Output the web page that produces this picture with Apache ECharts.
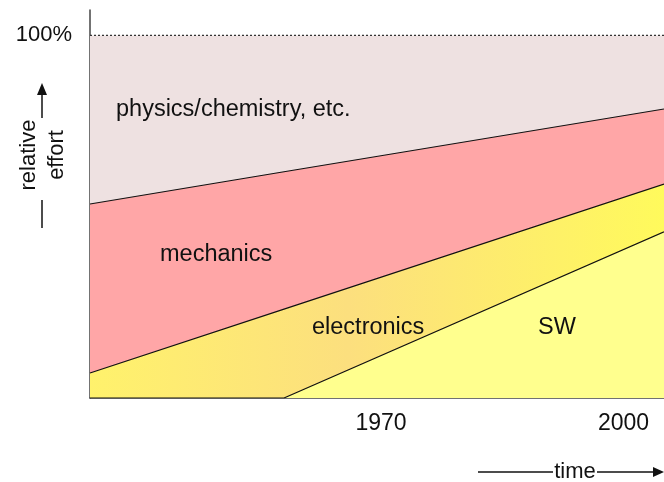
<!DOCTYPE html>
<html>
<head>
<meta charset="utf-8">
<script src="https://cdn.jsdelivr.net/npm/echarts@6/dist/echarts.min.js"></script>
<style>html,body{margin:0;padding:0;background:#fff;}#c{width:664px;height:482px;}</style>
</head>
<body>
<div id="c"></div>
<script>
// Data (relative effort shares, percent) at given years
const years = [1934, 1958, 2005];
const swShare = [0, 0, 45.8];
const electronicsShare = [6.9, 24.5, 13.2];
const mechanicsShare = [46.6, 37.9, 20.7];
const physicsShare = [46.5, 37.6, 20.3];
const xTickLabels = [1970, 2000];
const yTickLabels = [100];

const FONT = '"Liberation Sans", Arial, sans-serif';
// cumulative (stacked) tops built from the shares
const cumSW = swShare.slice();
const cumEl = cumSW.map((v, i) => v + electronicsShare[i]);
const cumMe = cumEl.map((v, i) => v + mechanicsShare[i]);
const cumPh = cumMe.map((v, i) => v + physicsShare[i]);
const pairs = arr => years.map((y, i) => [y, +arr[i].toFixed(2)]);

const chart = echarts.init(document.getElementById('c'), null, {renderer: 'canvas'});
const lineBase = {color: '#111', width: 1.2};

chart.setOption({
  animation: false,
  backgroundColor: '#fff',
  grid: {left: 90, right: 0, top: 10, bottom: 84},
  xAxis: {
    type: 'value', min: 1934, max: 2005,
    splitLine: {show: false},
    axisLine: {show: true, lineStyle: {color: '#444', width: 1.5}},
    axisTick: {show: false},
    axisLabel: {
      customValues: xTickLabels,
      formatter: v => String(v),
      margin: 14, color: '#111', fontSize: 23, fontFamily: FONT
    }
  },
  yAxis: {
    type: 'value', min: 0, max: 107,
    splitLine: {show: false},
    axisLine: {show: true, lineStyle: {color: '#444', width: 1.5}},
    axisTick: {show: false},
    axisLabel: {
      customValues: yTickLabels,
      formatter: v => v + '%',
      margin: 18, color: '#111', fontSize: 22, fontFamily: FONT,
      padding: [4, 0, 0, 0]
    }
  },
  series: [
    {
      name: 'physics/chemistry, etc.', type: 'line', data: pairs(cumPh),
      symbol: 'none', z: 2, lineStyle: {color: '#333', width: 1.2, type: [2, 2]},
      areaStyle: {color: '#EEE1E1', opacity: 1}
    },
    {
      name: 'mechanics', type: 'line', data: pairs(cumMe),
      symbol: 'none', z: 3, lineStyle: lineBase,
      areaStyle: {color: '#FFA6A7', opacity: 1}
    },
    {
      name: 'electronics', type: 'line', data: pairs(cumEl),
      symbol: 'none', z: 4, lineStyle: lineBase,
      areaStyle: {opacity: 1, color: new echarts.graphic.LinearGradient(0, 0, 1, 0, [
        {offset: 0, color: '#FFF26C'},
        {offset: 0.45, color: '#FCDF7E'},
        {offset: 1, color: '#FFFA5C'}
      ])}
    },
    {
      name: 'SW', type: 'line', data: pairs(cumSW),
      symbol: 'none', z: 5, lineStyle: lineBase,
      areaStyle: {color: '#FFFF8E', opacity: 1}
    }
  ],
  graphic: [
    {type: 'text', left: 116, top: 98, z: 20, style: {text: 'physics/chemistry, etc.', font: '23.5px ' + FONT, fill: '#111'}},
    {type: 'text', left: 160, top: 243, z: 20, style: {text: 'mechanics', font: '23.5px ' + FONT, fill: '#111'}},
    {type: 'text', left: 312, top: 316, z: 20, style: {text: 'electronics', font: '23.5px ' + FONT, fill: '#111'}},
    {type: 'text', left: 538, top: 316, z: 20, style: {text: 'SW', font: '23.5px ' + FONT, fill: '#111'}},
    // y-axis title, rotated
    {type: 'text', z: 20, rotation: Math.PI / 2, x: 29, y: 155,
     style: {text: 'relative', font: '22px ' + FONT, fill: '#111', align: 'center', verticalAlign: 'middle'}},
    {type: 'text', z: 20, rotation: Math.PI / 2, x: 57, y: 155,
     style: {text: 'effort', font: '22px ' + FONT, fill: '#111', align: 'center', verticalAlign: 'middle'}},
    {type: 'line', z: 20, shape: {x1: 42, y1: 118, x2: 42, y2: 92}, style: {stroke: '#111', lineWidth: 1.5}},
    {type: 'polygon', z: 20, shape: {points: [[42, 83], [37, 95], [47, 95]]}, style: {fill: '#111'}},
    {type: 'line', z: 20, shape: {x1: 42, y1: 200, x2: 42, y2: 228}, style: {stroke: '#111', lineWidth: 1.5}},
    // time arrow
    {type: 'text', z: 20, x: 575, y: 472,
     style: {text: 'time', font: '22px ' + FONT, fill: '#111', align: 'center', verticalAlign: 'middle'}},
    {type: 'line', z: 20, shape: {x1: 478, y1: 472, x2: 553, y2: 472}, style: {stroke: '#111', lineWidth: 1.5}},
    {type: 'line', z: 20, shape: {x1: 597, y1: 472, x2: 656, y2: 472}, style: {stroke: '#111', lineWidth: 1.5}},
    {type: 'polygon', z: 20, shape: {points: [[664, 472], [653, 467], [653, 477]]}, style: {fill: '#111'}}
  ]
});
</script>
</body>
</html>
